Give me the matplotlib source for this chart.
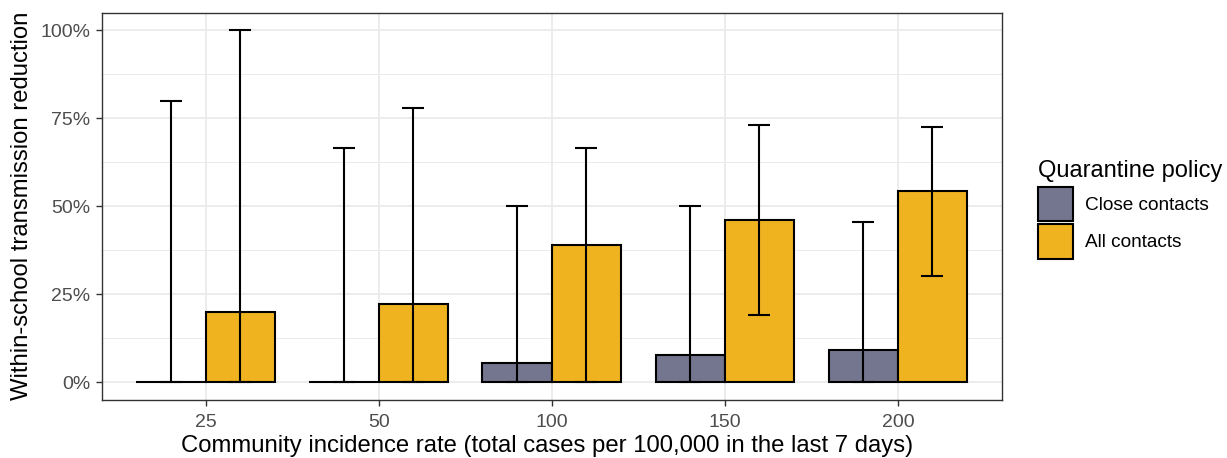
import numpy as np
import matplotlib
matplotlib.use('Agg')
from matplotlib import pyplot as plt
from matplotlib.patches import Patch
from matplotlib.ticker import FixedLocator, PercentFormatter

plt.rcParams['font.family'] = ['Liberation Sans', 'DejaVu Sans']

# data
incidence = ['25', '50', '100', '150', '200']
policies = ['Close contacts', 'All contacts']
close_val = [0.0, 0.0, 0.056, 0.077, 0.093]
close_lo = [0.0, 0.0, 0.0, 0.0, 0.0]
close_hi = [0.80, 0.667, 0.50, 0.50, 0.456]
all_val = [0.20, 0.222, 0.389, 0.461, 0.545]
all_lo = [0.0, 0.0, 0.0, 0.192, 0.303]
all_hi = [1.0, 0.778, 0.667, 0.731, 0.726]

colors = ['#74768f', '#eeb31f']

fig = plt.figure(figsize=(12.27, 4.58), dpi=100)
ax = fig.add_axes([0.0829, 0.1266, 0.7335, 0.8457])

x = np.arange(len(incidence))
w = 0.4
series = [(close_val, close_lo, close_hi), (all_val, all_lo, all_hi)]
for i, (vals, lo, hi) in enumerate(series):
    xpos = x + (i - 0.5) * w
    ax.bar(xpos, vals, width=w, color=colors[i], edgecolor='black',
           linewidth=1.5, zorder=3)
    vals = np.array(vals)
    yerr = [vals - np.array(lo), np.array(hi) - vals]
    ax.errorbar(xpos, vals, yerr=yerr, fmt='none', ecolor='black',
                elinewidth=1.5, capsize=8, capthick=1.5, zorder=4)

ax.set_xlim(-0.6, 4.6)
ax.set_ylim(-0.05, 1.05)
ax.set_xticks(x)
ax.set_xticklabels(incidence)
ax.set_yticks([0, 0.25, 0.5, 0.75, 1.0])
ax.yaxis.set_major_formatter(PercentFormatter(1.0, decimals=0))
ax.yaxis.set_minor_locator(FixedLocator([0.125, 0.375, 0.625, 0.875]))

ax.grid(which='major', color='#ebebeb', linewidth=1.3, zorder=0)
ax.grid(which='minor', axis='y', color='#ebebeb', linewidth=0.7, zorder=0)
ax.set_axisbelow(True)
ax.tick_params(which='major', length=4, width=1, color='#333333',
               labelcolor='#4d4d4d', labelsize=14, pad=4)
ax.tick_params(axis='x', pad=6)
ax.tick_params(which='minor', length=0)
for s in ax.spines.values():
    s.set_color('#333333')
    s.set_linewidth(1)

fig.text(0.446, 0.026, 'Community incidence rate (total cases per 100,000 in the last 7 days)',
         ha='center', va='center', fontsize=17.2)
fig.text(0.018, 0.55, 'Within-school transmission reduction', rotation=90,
         ha='center', va='center', fontsize=17.2)

handles = [Patch(facecolor=colors[i], edgecolor='black', linewidth=1.5, label=policies[i])
           for i in range(2)]
leg = fig.legend(handles=handles, title='Quarantine policy', loc='upper left',
                 bbox_to_anchor=(0.838, 0.672), frameon=False, fontsize=13.7,
                 title_fontsize=17, handlelength=1.85, handleheight=2.38,
                 handletextpad=0.65, labelspacing=0.16, borderpad=0)
leg._legend_box.align = 'left'
leg._legend_box.sep = 4

fig.savefig('out.png', dpi=100)
